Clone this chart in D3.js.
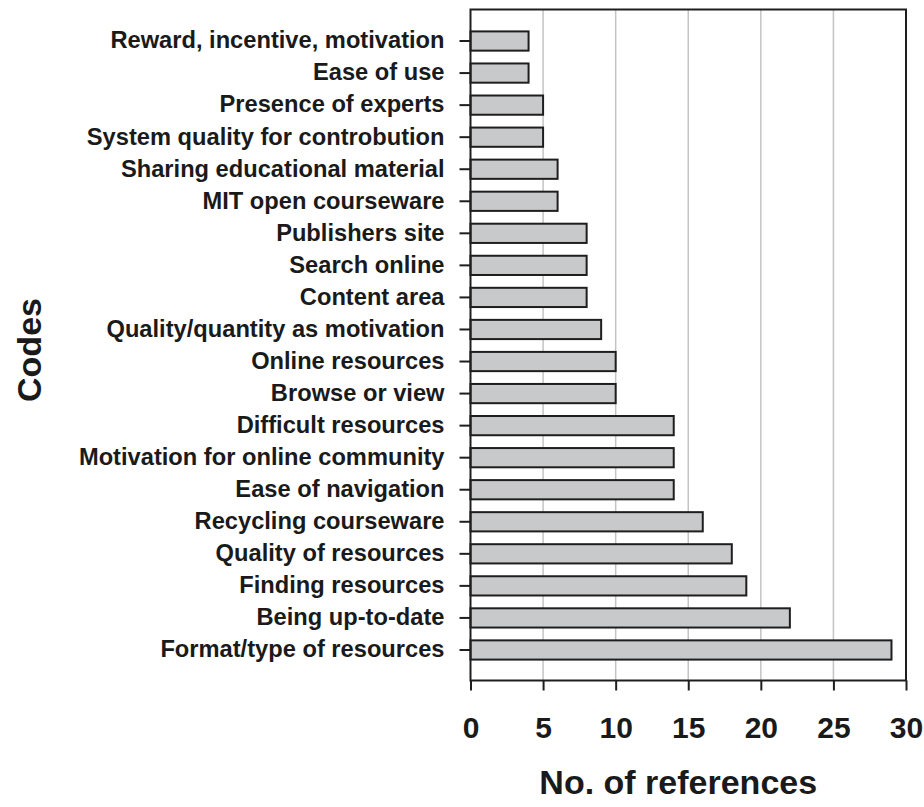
<!DOCTYPE html>
<html>
<head>
<meta charset="utf-8">
<script src="https://cdn.jsdelivr.net/npm/d3@7"></script>
<style>
  html, body { margin: 0; padding: 0; background: #fff; }
  svg { display: block; }
  text { font-family: "Liberation Sans", Arial, sans-serif; font-weight: bold; fill: #1a1a1a; }
</style>
</head>
<body>
<svg id="chart" width="924" height="807"></svg>
<script>
// Codes, top to bottom
const codes = [
  "Reward, incentive, motivation",
  "Ease of use",
  "Presence of experts",
  "System quality for controbution",
  "Sharing educational material",
  "MIT open courseware",
  "Publishers site",
  "Search online",
  "Content area",
  "Quality/quantity as motivation",
  "Online resources",
  "Browse or view",
  "Difficult resources",
  "Motivation for online community",
  "Ease of navigation",
  "Recycling courseware",
  "Quality of resources",
  "Finding resources",
  "Being up-to-date",
  "Format/type of resources"
];
// Number of references per code
const references = [4, 4, 5, 5, 6, 6, 8, 8, 8, 9, 10, 10, 14, 14, 14, 16, 18, 19, 22, 29];
const xTicks = [0, 5, 10, 15, 20, 25, 30];
const xTitle = "No. of references";
const yTitle = "Codes";

const data = codes.map((c, i) => ({ code: c, value: references[i] }));

const svg = d3.select("#chart");
const plot = { left: 470.5, right: 906, top: 9.5, bottom: 680.5 };

const x = d3.scaleLinear().domain([0, 30]).range([plot.left, plot.right]);
const y = d3.scaleBand().domain(codes).range([25, 666]).paddingInner(0.4).paddingOuter(0.2);

// vertical grid lines
svg.append("g")
  .selectAll("line")
  .data(xTicks.filter(t => t > 0 && t < 30))
  .join("line")
  .attr("x1", d => x(d)).attr("x2", d => x(d))
  .attr("y1", plot.top).attr("y2", plot.bottom)
  .attr("stroke", "#c4c4c4").attr("stroke-width", 1.5);

// bars
svg.append("g")
  .selectAll("rect")
  .data(data)
  .join("rect")
  .attr("x", x(0))
  .attr("y", d => y(d.code))
  .attr("width", d => x(d.value) - x(0))
  .attr("height", y.bandwidth())
  .attr("fill", "#c8c9cb")
  .attr("stroke", "#1e1e1e")
  .attr("stroke-width", 2);

// plot frame
svg.append("rect")
  .attr("x", plot.left).attr("y", plot.top)
  .attr("width", plot.right - plot.left).attr("height", plot.bottom - plot.top)
  .attr("fill", "none").attr("stroke", "#1e1e1e").attr("stroke-width", 2);

// y axis
const yAxis = svg.append("g")
  .attr("transform", `translate(${plot.left},0)`)
  .call(d3.axisLeft(y).tickSize(11).tickPadding(6))
  .attr("font-family", null)
  .attr("font-size", null);
yAxis.select(".domain").remove();
yAxis.selectAll(".tick line").attr("stroke", "#1e1e1e").attr("stroke-width", 2);
yAxis.selectAll(".tick text")
  .attr("font-size", 23)
  .attr("fill", "#1a1a1a")
  .attr("transform", "scale(1.03,1)")
  .attr("x", -26 / 1.03);

// x axis
const xAxis = svg.append("g")
  .attr("transform", `translate(0,${plot.bottom})`)
  .call(d3.axisBottom(x).tickValues(xTicks).tickSize(10).tickPadding(26))
  .attr("font-family", null)
  .attr("font-size", null);
xAxis.select(".domain").remove();
xAxis.selectAll(".tick line").attr("stroke", "#1e1e1e").attr("stroke-width", 2);
xAxis.selectAll(".tick text")
  .attr("font-size", 30)
  .attr("fill", "#1a1a1a");

// axis titles
svg.append("text")
  .attr("x", (plot.left + plot.right) / 2 - 10)
  .attr("y", 794)
  .attr("text-anchor", "middle")
  .attr("font-size", 34)
  .text(xTitle);

svg.append("text")
  .attr("transform", "translate(41,350) rotate(-90)")
  .attr("text-anchor", "middle")
  .attr("font-size", 34)
  .text(yTitle);
</script>
</body>
</html>
